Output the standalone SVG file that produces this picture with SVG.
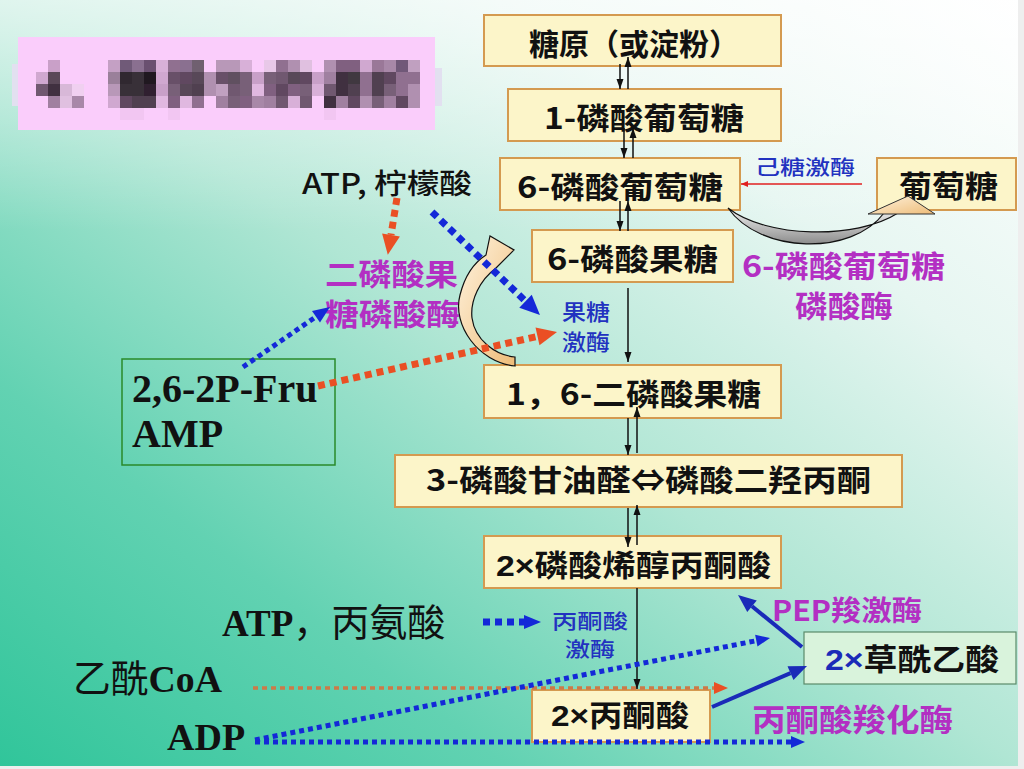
<svg xmlns="http://www.w3.org/2000/svg" width="1024" height="769" viewBox="0 0 1024 769">
<defs>
<linearGradient id="bg" x1="0" y1="1" x2="1" y2="0">
<stop offset="0" stop-color="#30c59a"/>
<stop offset="0.25" stop-color="#62d2b2"/>
<stop offset="0.5" stop-color="#b0e6d4"/>
<stop offset="0.75" stop-color="#e6f6f1"/>
<stop offset="1" stop-color="#ffffff"/>
</linearGradient>
<linearGradient id="topw" x1="0" y1="0" x2="0" y2="1">
<stop offset="0" stop-color="#ffffff" stop-opacity="0.6"/>
<stop offset="0.3" stop-color="#ffffff" stop-opacity="0"/>
</linearGradient>
<linearGradient id="peach" x1="0" y1="0" x2="1" y2="1">
<stop offset="0" stop-color="#fff4e0"/>
<stop offset="1" stop-color="#eebc78"/>
</linearGradient>
<linearGradient id="greyb" x1="0" y1="0" x2="0" y2="1">
<stop offset="0" stop-color="#f4f4f4"/>
<stop offset="1" stop-color="#8c8c8c"/>
</linearGradient>
<marker id="hK" markerUnits="userSpaceOnUse" markerWidth="10" markerHeight="7" refX="10" refY="3.5" orient="auto" overflow="visible"><path d="M0,0 L10,3.5 L0,7 Z" fill="#111"/></marker>
<marker id="hRt" markerUnits="userSpaceOnUse" markerWidth="7" markerHeight="6" refX="7" refY="3" orient="auto" overflow="visible"><path d="M0,0 L7,3 L0,6 Z" fill="#e02020"/></marker>
<marker id="hR" markerUnits="userSpaceOnUse" markerWidth="20" markerHeight="18" refX="0" refY="9" orient="auto" overflow="visible"><path d="M0,0 L20,9 L0,18 Z" fill="#ea4f24"/></marker>
<marker id="hB" markerUnits="userSpaceOnUse" markerWidth="20" markerHeight="18" refX="0" refY="9" orient="auto" overflow="visible"><path d="M0,0 L20,9 L0,18 Z" fill="#1428d8"/></marker>
<marker id="hBs" markerUnits="userSpaceOnUse" markerWidth="17" markerHeight="14" refX="0" refY="7" orient="auto" overflow="visible"><path d="M0,0 L17,7 L0,14 Z" fill="#1428d8"/></marker>
<marker id="hBx" markerUnits="userSpaceOnUse" markerWidth="14" markerHeight="12" refX="0" refY="6" orient="auto" overflow="visible"><path d="M0,0 L14,6 L0,12 Z" fill="#1428d8"/></marker>
<marker id="hRx" markerUnits="userSpaceOnUse" markerWidth="14" markerHeight="12" refX="0" refY="6" orient="auto" overflow="visible"><path d="M0,0 L14,6 L0,12 Z" fill="#ea4f24"/></marker>
<marker id="hS" markerUnits="userSpaceOnUse" markerWidth="18" markerHeight="15" refX="0" refY="7.5" orient="auto" overflow="visible"><path d="M0,0 L18,7.5 L0,15 Z" fill="#1a2ab8"/></marker>
</defs>
<style>
.box{fill:#fcf5c9;stroke:#d49a50;stroke-width:2}
.bt{font-family:"Noto Sans CJK SC","Noto Sans",sans-serif;font-weight:700;font-size:30px;fill:#111}
.x{font-family:"Liberation Sans","Noto Sans",sans-serif;font-weight:700}
.mag{font-family:"Noto Sans CJK SC","Noto Sans",sans-serif;font-weight:700;fill:#b32fc3}
.blu{font-family:"Noto Sans CJK SC","Noto Sans",sans-serif;font-weight:500;fill:#2232c0}
.blk{font-family:"Noto Sans CJK SC","Noto Sans",sans-serif;fill:#111}
.ser{font-family:"Liberation Serif","Noto Sans CJK SC",serif;font-weight:700;fill:#111}
.cjk{font-family:"Noto Sans CJK SC",sans-serif;font-weight:400}
.ln{stroke:#111;stroke-width:1.5;fill:none;marker-end:url(#hK)}
.dR{stroke:#ea4f24;stroke-width:7;stroke-dasharray:7 5;fill:none}
.dB{stroke:#1428d8;stroke-width:7;stroke-dasharray:7 5;fill:none}
.dBt{stroke:#1428d8;stroke-width:5;stroke-dasharray:5 4;fill:none}
.dO{stroke:#cc7a48;stroke-width:3.5;stroke-dasharray:5 4;fill:none}
.sB{stroke:#1a2ab8;stroke-width:4;fill:none}
</style>
<rect x="0" y="0" width="1024" height="769" fill="url(#bg)"/>
<rect x="0" y="0" width="1024" height="769" fill="url(#topw)"/>
<rect x="1018" y="0" width="6" height="769" fill="#eeeeee"/>
<rect x="0" y="766" width="1024" height="3" fill="#eeeeee"/>

<g id="title">
<rect x="12" y="64" width="8" height="42" fill="#e2e0f0"/>
<rect x="432" y="68" width="10" height="38" fill="#e2e0f0"/>
<rect x="18" y="37" width="417" height="93" fill="#facdfb"/>
<g>
<rect x="48" y="60" width="12" height="12" fill="#c9a0c8"/>
<rect x="108" y="60" width="12" height="12" fill="#c4a0c4"/>
<rect x="120" y="60" width="12" height="12" fill="#705a78"/>
<rect x="132" y="60" width="12" height="12" fill="#8a7090"/>
<rect x="144" y="60" width="12" height="12" fill="#6a5070"/>
<rect x="156" y="60" width="12" height="12" fill="#d8b0d8"/>
<rect x="168" y="60" width="12" height="12" fill="#907090"/>
<rect x="180" y="60" width="12" height="12" fill="#8a7090"/>
<rect x="192" y="60" width="12" height="12" fill="#706070"/>
<rect x="216" y="60" width="12" height="12" fill="#b898b8"/>
<rect x="228" y="60" width="12" height="12" fill="#b898b8"/>
<rect x="240" y="60" width="12" height="12" fill="#d8b0d8"/>
<rect x="264" y="60" width="12" height="12" fill="#e8c8e8"/>
<rect x="276" y="60" width="12" height="12" fill="#907090"/>
<rect x="288" y="60" width="12" height="12" fill="#b090b0"/>
<rect x="300" y="60" width="12" height="12" fill="#e0c0e0"/>
<rect x="324" y="60" width="12" height="12" fill="#b090b0"/>
<rect x="336" y="60" width="12" height="12" fill="#806080"/>
<rect x="348" y="60" width="12" height="12" fill="#806080"/>
<rect x="360" y="60" width="12" height="12" fill="#d0a8d0"/>
<rect x="372" y="60" width="12" height="12" fill="#9a7898"/>
<rect x="384" y="60" width="12" height="12" fill="#a888a8"/>
<rect x="396" y="60" width="12" height="12" fill="#705878"/>
<rect x="408" y="60" width="12" height="12" fill="#c0a0c0"/>
<rect x="36" y="72" width="12" height="12" fill="#d0a8d0"/>
<rect x="48" y="72" width="12" height="12" fill="#5a4858"/>
<rect x="108" y="72" width="12" height="12" fill="#9a809a"/>
<rect x="120" y="72" width="12" height="12" fill="#302830"/>
<rect x="132" y="72" width="12" height="12" fill="#383038"/>
<rect x="144" y="72" width="12" height="12" fill="#201820"/>
<rect x="156" y="72" width="12" height="12" fill="#d0a8d0"/>
<rect x="168" y="72" width="12" height="12" fill="#685068"/>
<rect x="180" y="72" width="12" height="12" fill="#604860"/>
<rect x="192" y="72" width="12" height="12" fill="#584858"/>
<rect x="204" y="72" width="12" height="12" fill="#b090b0"/>
<rect x="216" y="72" width="12" height="12" fill="#685068"/>
<rect x="228" y="72" width="12" height="12" fill="#605060"/>
<rect x="240" y="72" width="12" height="12" fill="#786078"/>
<rect x="252" y="72" width="12" height="12" fill="#c8a0c8"/>
<rect x="264" y="72" width="12" height="12" fill="#786078"/>
<rect x="276" y="72" width="12" height="12" fill="#705870"/>
<rect x="288" y="72" width="12" height="12" fill="#584858"/>
<rect x="300" y="72" width="12" height="12" fill="#604860"/>
<rect x="312" y="72" width="12" height="12" fill="#c8a0c8"/>
<rect x="324" y="72" width="12" height="12" fill="#a080a0"/>
<rect x="336" y="72" width="12" height="12" fill="#403040"/>
<rect x="348" y="72" width="12" height="12" fill="#403840"/>
<rect x="360" y="72" width="12" height="12" fill="#907090"/>
<rect x="372" y="72" width="12" height="12" fill="#504050"/>
<rect x="384" y="72" width="12" height="12" fill="#604860"/>
<rect x="396" y="72" width="12" height="12" fill="#907090"/>
<rect x="408" y="72" width="12" height="12" fill="#907090"/>
<rect x="36" y="84" width="12" height="12" fill="#705870"/>
<rect x="48" y="84" width="12" height="12" fill="#403040"/>
<rect x="60" y="84" width="12" height="12" fill="#d8b8d8"/>
<rect x="72" y="84" width="12" height="12" fill="#f0d0f0"/>
<rect x="108" y="84" width="12" height="12" fill="#b898b8"/>
<rect x="120" y="84" width="12" height="12" fill="#383038"/>
<rect x="132" y="84" width="12" height="12" fill="#383038"/>
<rect x="144" y="84" width="12" height="12" fill="#302030"/>
<rect x="156" y="84" width="12" height="12" fill="#c8a0c8"/>
<rect x="168" y="84" width="12" height="12" fill="#786078"/>
<rect x="180" y="84" width="12" height="12" fill="#584858"/>
<rect x="192" y="84" width="12" height="12" fill="#504050"/>
<rect x="204" y="84" width="12" height="12" fill="#b090b0"/>
<rect x="216" y="84" width="12" height="12" fill="#c0a0c0"/>
<rect x="228" y="84" width="12" height="12" fill="#705870"/>
<rect x="240" y="84" width="12" height="12" fill="#786078"/>
<rect x="252" y="84" width="12" height="12" fill="#e0b8e0"/>
<rect x="264" y="84" width="12" height="12" fill="#806080"/>
<rect x="276" y="84" width="12" height="12" fill="#604860"/>
<rect x="288" y="84" width="12" height="12" fill="#806080"/>
<rect x="300" y="84" width="12" height="12" fill="#786078"/>
<rect x="312" y="84" width="12" height="12" fill="#d8b0d8"/>
<rect x="324" y="84" width="12" height="12" fill="#705870"/>
<rect x="336" y="84" width="12" height="12" fill="#403040"/>
<rect x="348" y="84" width="12" height="12" fill="#504050"/>
<rect x="360" y="84" width="12" height="12" fill="#907090"/>
<rect x="372" y="84" width="12" height="12" fill="#504050"/>
<rect x="384" y="84" width="12" height="12" fill="#786078"/>
<rect x="396" y="84" width="12" height="12" fill="#907090"/>
<rect x="408" y="84" width="12" height="12" fill="#b090b0"/>
<rect x="48" y="96" width="12" height="12" fill="#a080a0"/>
<rect x="60" y="96" width="12" height="12" fill="#e0c0e0"/>
<rect x="72" y="96" width="12" height="12" fill="#a888a8"/>
<rect x="108" y="96" width="12" height="12" fill="#d0a8d0"/>
<rect x="120" y="96" width="12" height="12" fill="#604860"/>
<rect x="132" y="96" width="12" height="12" fill="#504050"/>
<rect x="144" y="96" width="12" height="12" fill="#504050"/>
<rect x="156" y="96" width="12" height="12" fill="#e0b8e0"/>
<rect x="168" y="96" width="12" height="12" fill="#806080"/>
<rect x="180" y="96" width="12" height="12" fill="#e0b8e0"/>
<rect x="192" y="96" width="12" height="12" fill="#907090"/>
<rect x="216" y="96" width="12" height="12" fill="#a080a0"/>
<rect x="228" y="96" width="12" height="12" fill="#786078"/>
<rect x="240" y="96" width="12" height="12" fill="#806080"/>
<rect x="252" y="96" width="12" height="12" fill="#a888a8"/>
<rect x="264" y="96" width="12" height="12" fill="#a080a0"/>
<rect x="276" y="96" width="12" height="12" fill="#705870"/>
<rect x="288" y="96" width="12" height="12" fill="#d8b0d8"/>
<rect x="300" y="96" width="12" height="12" fill="#705870"/>
<rect x="324" y="96" width="12" height="12" fill="#403040"/>
<rect x="336" y="96" width="12" height="12" fill="#a080a0"/>
<rect x="348" y="96" width="12" height="12" fill="#604860"/>
<rect x="360" y="96" width="12" height="12" fill="#b090b0"/>
<rect x="372" y="96" width="12" height="12" fill="#786078"/>
<rect x="384" y="96" width="12" height="12" fill="#a080a0"/>
<rect x="396" y="96" width="12" height="12" fill="#604860"/>
<rect x="408" y="96" width="12" height="12" fill="#b090b0"/>
<rect x="120" y="108" width="12" height="12" fill="#f2c6f2"/>
<rect x="132" y="108" width="12" height="12" fill="#f2c6f2"/>
<rect x="168" y="108" width="12" height="12" fill="#f2c6f2"/>
<rect x="324" y="108" width="12" height="12" fill="#f2c6f2"/>
</g>
</g>

<g id="n-glycogen"><rect class="box" x="484" y="15" width="297" height="51"/><text class="bt" x="634" y="55" text-anchor="middle" font-size="33">糖原（或淀粉）</text></g>
<g id="n-g1p"><rect class="box" x="508" y="89" width="273" height="52"/><text class="bt" x="544" y="129" textLength="200" lengthAdjust="spacingAndGlyphs">1-磷酸葡萄糖</text></g>
<g id="n-g6p"><rect class="box" x="500" y="158" width="240" height="52"/><text class="bt" x="517" y="198" font-size="31" textLength="206" lengthAdjust="spacingAndGlyphs">6-磷酸葡萄糖</text></g>
<g id="n-glucose"><rect class="box" x="877" y="158" width="139" height="52"/><text class="bt" x="899" y="197" font-size="32" textLength="99" lengthAdjust="spacingAndGlyphs">葡萄糖</text></g>
<g id="n-f6p"><rect class="box" x="532" y="230" width="201" height="52"/><text class="bt" x="547" y="270" textLength="171" lengthAdjust="spacingAndGlyphs">6-磷酸果糖</text></g>
<g id="n-fbp"><rect class="box" x="484" y="365" width="297" height="53"/><text class="bt" x="506" y="405" textLength="255" lengthAdjust="spacingAndGlyphs">1，6-二磷酸果糖</text></g>
<g id="n-triose"><rect class="box" x="395" y="455" width="507" height="52"/><text class="bt" x="426" y="491" textLength="445" lengthAdjust="spacingAndGlyphs">3-磷酸甘油醛⇔磷酸二羟丙酮</text></g>
<g id="n-pep"><rect class="box" x="484" y="536" width="297" height="52"/><text class="bt" x="496" y="576" textLength="275" lengthAdjust="spacingAndGlyphs"><tspan class="x">2×</tspan>磷酸烯醇丙酮酸</text></g>
<g id="n-pyruvate"><rect class="box" x="532" y="690" width="178" height="52"/><text class="bt" x="551" y="726" font-size="31" textLength="138" lengthAdjust="spacingAndGlyphs"><tspan class="x">2×</tspan>丙酮酸</text></g>
<g id="n-oaa"><rect x="804" y="632" width="212" height="52" fill="#d9f3dc" stroke="#5a8a6a" stroke-width="1.2"/><text class="bt" x="825" y="670" font-size="31" textLength="174" lengthAdjust="spacingAndGlyphs"><tspan class="x" fill="#1a2ab8">2×</tspan>草酰乙酸</text></g>
<g id="n-effectors"><rect x="122" y="359" width="213" height="106" fill="none" stroke="#2a8a2a" stroke-width="1.5"/><text class="ser" x="132" y="402" font-size="40">2,6-2P-Fru</text><text class="ser" x="132" y="447" font-size="40">AMP</text></g>

<g id="labels">
<text class="blu" x="755" y="175" font-size="20" textLength="100" lengthAdjust="spacingAndGlyphs">己糖激酶</text>
<text class="mag" font-size="30"><tspan x="742" y="277" textLength="203" lengthAdjust="spacingAndGlyphs">6-磷酸葡萄糖</tspan><tspan x="795" y="317" textLength="98" lengthAdjust="spacingAndGlyphs">磷酸酶</tspan></text>
<text class="blk" x="302" y="194" font-size="28" font-weight="500" textLength="170" lengthAdjust="spacingAndGlyphs">ATP, 柠檬酸</text>
<text class="mag" font-size="30"><tspan x="325" y="285" textLength="133" lengthAdjust="spacingAndGlyphs">二磷酸果</tspan><tspan x="325" y="325" textLength="135" lengthAdjust="spacingAndGlyphs">糖磷酸酶</tspan></text>
<text class="blu" font-size="22"><tspan x="562" y="320" textLength="48" lengthAdjust="spacingAndGlyphs">果糖</tspan><tspan x="562" y="350" textLength="48" lengthAdjust="spacingAndGlyphs">激酶</tspan></text>
<text class="ser" x="222" y="636" font-size="37">ATP<tspan class="cjk" font-size="38">，丙氨酸</tspan></text>
<text class="blu" font-size="20.5"><tspan x="552" y="629" textLength="76" lengthAdjust="spacingAndGlyphs">丙酮酸</tspan><tspan x="565" y="657" textLength="50" lengthAdjust="spacingAndGlyphs">激酶</tspan></text>
<text class="ser" x="73" y="692" font-size="38" textLength="149" lengthAdjust="spacingAndGlyphs"><tspan class="cjk">乙酰</tspan>CoA</text>
<text class="ser" x="167" y="750" font-size="38">ADP</text>
<text class="mag" x="772" y="621" font-size="28" textLength="150" lengthAdjust="spacingAndGlyphs">PEP羧激酶</text>
<text class="mag" x="752" y="731" font-size="31" textLength="201" lengthAdjust="spacingAndGlyphs">丙酮酸羧化酶</text>
</g>

<g id="connectors">
<line class="ln" x1="620" y1="64" x2="620" y2="89"/>
<line class="ln" x1="628" y1="89" x2="628" y2="57"/>
<line class="ln" x1="624" y1="128" x2="624" y2="158"/>
<line class="ln" x1="633" y1="158" x2="633" y2="128"/>
<line class="ln" x1="620" y1="201" x2="620" y2="231"/>
<line class="ln" x1="628" y1="231" x2="628" y2="201"/>
<line class="ln" x1="628" y1="288" x2="628" y2="362"/>
<line class="ln" x1="628" y1="418" x2="628" y2="455"/>
<line class="ln" x1="637" y1="453" x2="637" y2="407"/>
<line class="ln" x1="628" y1="508" x2="628" y2="547"/>
<line class="ln" x1="637" y1="545" x2="637" y2="505"/>
<line class="ln" x1="637" y1="588" x2="637" y2="689"/>
<line x1="862" y1="184" x2="741" y2="184" stroke="#e02020" stroke-width="1.5" marker-end="url(#hRt)"/>
<path d="M728,208 C760,254 852,256 884,213 L898,213 C856,240 766,238 728,208 Z" fill="url(#greyb)" stroke="#111" stroke-width="1.2"/>
<path d="M868,214 L908,196 L935,214 Z" fill="url(#peach)" stroke="#333" stroke-width="1"/>
<path d="M515,366 C478,362 452,325 460,295 C465,275 475,262 486,255 L490,236 L514,250 L496,268 C480,280 470,300 472,318 C475,340 495,355 515,357 Z" fill="url(#peach)" stroke="#111" stroke-width="1.2"/>
<line class="dR" x1="397" y1="198" x2="391" y2="235" marker-end="url(#hR)"/>
<line class="dB" x1="432" y1="212" x2="525.5" y2="301.2" marker-end="url(#hB)"/>
<line class="dBt" x1="243" y1="367" x2="316" y2="316.7" marker-end="url(#hBs)"/>
<line class="dR" x1="318" y1="386" x2="537.5" y2="336.4" marker-end="url(#hR)"/>
<line class="dB" x1="483" y1="622" x2="524" y2="622" marker-end="url(#hBs)"/>
<line class="dO" x1="253" y1="688" x2="714" y2="688" marker-end="url(#hRx)"/>
<line class="dBt" x1="255" y1="740" x2="756.3" y2="640.7" marker-end="url(#hBx)"/>
<line class="dBt" x1="255" y1="742" x2="791" y2="742" marker-end="url(#hBx)"/>
<line class="sB" x1="802" y1="647" x2="752" y2="606.3" marker-end="url(#hS)"/>
<line class="sB" x1="712" y1="707" x2="790.5" y2="673.1" marker-end="url(#hS)"/>
</g>
</svg>
